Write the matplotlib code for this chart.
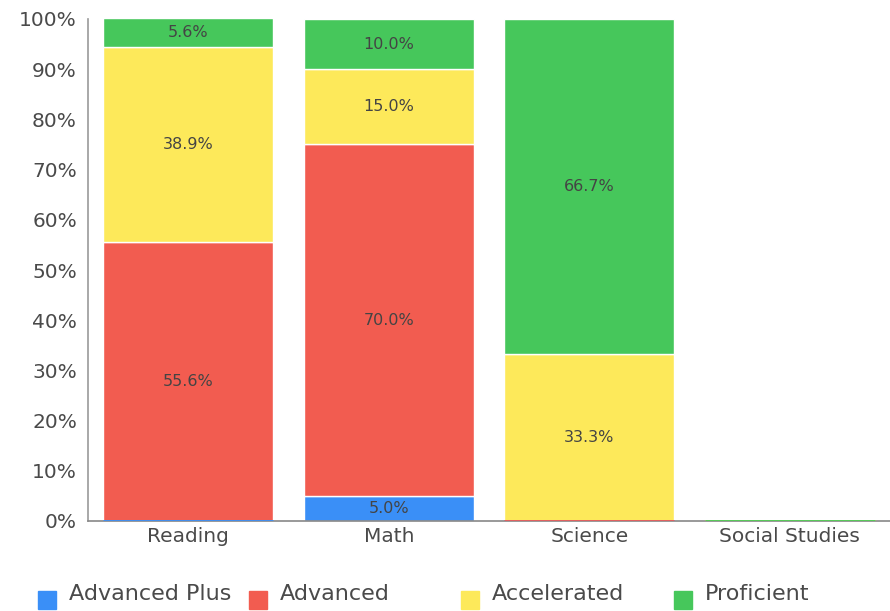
import numpy as np
import matplotlib.pyplot as plt
from matplotlib.patches import Rectangle

# data
subjects = ["Reading", "Math", "Science", "Social Studies"]
series = ["Advanced Plus", "Advanced", "Accelerated", "Proficient"]
adv_plus = [0.0, 5.0, 0.0, 0.0]
advanced = [55.6, 70.0, 0.0, 0.0]
accelerated = [38.9, 15.0, 33.3, 0.0]
proficient = [5.6, 10.0, 66.7, 0.0]
colors = ["#3a8ff7", "#f25c50", "#fde95a", "#46c75b"]

values = [adv_plus, advanced, accelerated, proficient]
x = np.arange(len(subjects))
w = 0.85

fig = plt.figure(figsize=(8.9, 6.11), dpi=100)
ax = fig.add_axes([88 / 890, 90 / 611, 802 / 890, 502 / 611])

bottom = np.zeros(len(subjects))
for vals, col in zip(values, colors):
    vals = np.array(vals)
    ax.bar(x, vals, w, bottom=bottom, color=col, edgecolor="white",
           linewidth=1, zorder=2)
    for i, v in enumerate(vals):
        if v == 0:
            # empty segment shows as a thin coloured line
            ax.hlines(bottom[i], x[i] - w / 2, x[i] + w / 2, color=col,
                      linewidth=2, zorder=3)
        else:
            ax.text(x[i], bottom[i] + v / 2, "%.1f%%" % v, ha="center",
                    va="center", fontsize=11.5, color="#444444", zorder=4)
    bottom = bottom + vals

ax.set_xlim(-0.5, 3.5)
ax.set_ylim(0, 100)
ax.set_xticks(x)
ax.set_xticklabels(subjects, fontsize=14.5, color="#4a4a4a")
ax.set_yticks(np.arange(0, 101, 10))
ax.set_yticklabels(["%d%%" % t for t in range(0, 101, 10)], fontsize=14.5,
                   color="#4a4a4a")
ax.tick_params(length=0)
ax.tick_params(axis="y", pad=8)
ax.tick_params(axis="x", pad=4)
for s in ["top", "right"]:
    ax.spines[s].set_visible(False)
ax.spines["left"].set_color("#999999")
ax.spines["bottom"].set_color("#888888")
ax.spines["left"].set_linewidth(1.2)
ax.spines["bottom"].set_linewidth(1.2)

# legend drawn by hand with fixed-width columns
leg_x = [38, 249, 461, 674]
for lx, name, col in zip(leg_x, series, colors):
    fig.patches.append(Rectangle((lx / 890, 2 / 611), 18 / 890, 18 / 611,
                                 transform=fig.transFigure, color=col))
    fig.text((lx + 31) / 890, 17 / 611, name, fontsize=16,
             color="#4a4a4a", va="center", ha="left")

fig.savefig("out.png", dpi=100)
